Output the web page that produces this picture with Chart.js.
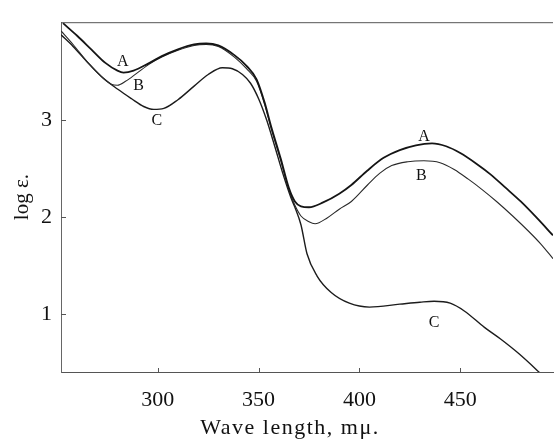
<!DOCTYPE html>
<html>
<head>
<meta charset="utf-8">
<script src="https://cdn.jsdelivr.net/npm/chart.js@4.4.1/dist/chart.umd.min.js"></script>
<style>
  html, body { margin: 0; padding: 0; background: #fff; }
  #wrap { width: 554px; height: 440px; }
</style>
</head>
<body>
<div id="wrap"><canvas id="spectrum" width="554" height="440"></canvas></div>
<script>
// curve A
const waveA = [253, 260, 267, 274, 280, 283, 288, 295, 302, 310, 318, 324, 330, 338, 344, 349, 353, 356, 361, 365, 368, 371, 375, 382, 390, 396, 404, 412, 420, 428, 436, 443, 450, 458, 465, 472, 480, 488, 496];
const logA  = [4.00, 3.87, 3.73, 3.59, 3.51, 3.49, 3.51, 3.58, 3.66, 3.73, 3.78, 3.79, 3.77, 3.67, 3.56, 3.42, 3.18, 2.95, 2.60, 2.30, 2.16, 2.11, 2.10, 2.15, 2.24, 2.33, 2.48, 2.61, 2.69, 2.74, 2.76, 2.73, 2.66, 2.55, 2.44, 2.31, 2.16, 1.99, 1.81];
// curve B
const waveB = [252, 258, 265, 272, 277, 280, 284, 290, 296, 302, 310, 318, 324, 330, 338, 344, 349, 353, 356, 361, 365, 368, 371, 375, 378, 384, 390, 396, 404, 410, 416, 424, 432, 440, 447, 454, 461, 468, 476, 484, 490, 496];
const logB  = [3.92, 3.78, 3.60, 3.45, 3.37, 3.36, 3.40, 3.49, 3.58, 3.65, 3.72, 3.77, 3.78, 3.76, 3.65, 3.53, 3.40, 3.16, 2.93, 2.58, 2.28, 2.12, 2.01, 1.95, 1.93, 1.99, 2.08, 2.16, 2.33, 2.45, 2.53, 2.57, 2.58, 2.56, 2.49, 2.39, 2.28, 2.16, 2.01, 1.85, 1.72, 1.57];
// curve C
const waveC = [252, 258, 265, 272, 280, 287, 293, 298, 303, 310, 318, 325, 332, 337, 342, 346, 350, 354, 358, 362, 366, 368, 371, 374, 379, 386, 395, 405, 420, 430, 437, 445, 452, 462, 470, 479, 489, 492];
const logC  = [3.88, 3.76, 3.60, 3.45, 3.32, 3.22, 3.14, 3.11, 3.12, 3.21, 3.35, 3.47, 3.54, 3.53, 3.47, 3.38, 3.22, 3.00, 2.73, 2.45, 2.20, 2.10, 1.92, 1.62, 1.39, 1.22, 1.11, 1.07, 1.10, 1.12, 1.13, 1.11, 1.03, 0.86, 0.74, 0.59, 0.40, 0.34];

const xTicks = [300, 350, 400, 450];
const yTicks = [1, 2, 3];

// letters written next to the curves, at data coordinates
const curveNames = ['A', 'B', 'C', 'A', 'B', 'C'];
const nameWave   = [282.6, 290.5, 299.5, 432, 430.7, 437];
const nameLog    = [3.60, 3.35, 2.99, 2.83, 2.42, 0.91];

const serif = '"Liberation Serif", "DejaVu Serif", serif';

function points(xs, ys) {
  return xs.map((x, i) => ({ x: x, y: ys[i] }));
}

const frame = {
  id: 'frame',
  afterDraw(chart) {
    const ctx = chart.ctx;
    const area = chart.chartArea;
    const xs = chart.scales.x;
    const ys = chart.scales.y;
    ctx.save();
    ctx.strokeStyle = '#555';
    ctx.lineWidth = 1;
    ctx.beginPath();
    ctx.moveTo(area.left, area.top + 0.5);
    ctx.lineTo(area.right, area.top + 0.5);
    // inward tick marks
    xTicks.forEach(v => {
      const px = Math.round(xs.getPixelForValue(v)) + 0.5;
      ctx.moveTo(px, area.bottom);
      ctx.lineTo(px, area.bottom - 4);
    });
    yTicks.forEach(v => {
      const py = Math.round(ys.getPixelForValue(v)) + 0.5;
      ctx.moveTo(area.left, py);
      ctx.lineTo(area.left + 5, py);
    });
    ctx.stroke();

    ctx.fillStyle = '#111';
    ctx.font = '16px ' + serif;
    ctx.textAlign = 'center';
    ctx.textBaseline = 'middle';
    curveNames.forEach((t, i) => {
      ctx.fillText(t, xs.getPixelForValue(nameWave[i]), ys.getPixelForValue(nameLog[i]));
    });

    ctx.font = '22px ' + serif;
    ctx.letterSpacing = '1.5px';
    ctx.fillText('Wave length, m\u03bc.', 290, 428);
    ctx.restore();
  }
};

const chart = new Chart(document.getElementById('spectrum'), {
  type: 'line',
  data: {
    datasets: [
      { label: 'A', data: points(waveA, logA), borderColor: '#151515', borderWidth: 1.8 },
      { label: 'B', data: points(waveB, logB), borderColor: '#2a2a2a', borderWidth: 1.1 },
      { label: 'C', data: points(waveC, logC), borderColor: '#1c1c1c', borderWidth: 1.4 }
    ]
  },
  options: {
    responsive: false,
    animation: false,
    devicePixelRatio: 1,
    layout: { padding: { top: 11, right: 1, left: 0, bottom: 0 } },
    elements: {
      point: { radius: 0 },
      line: { cubicInterpolationMode: 'monotone', fill: false }
    },
    plugins: {
      legend: { display: false },
      tooltip: { enabled: false }
    },
    scales: {
      x: {
        type: 'linear',
        min: 252,
        max: 496,
        afterBuildTicks: s => { s.ticks = xTicks.map(v => ({ value: v })); },
        afterFit: s => { s.height = 68; },
        grid: { display: false, drawTicks: false },
        border: { display: true, color: '#555', width: 1 },
        ticks: { padding: 15, color: '#111', font: { family: serif, size: 22 } }
      },
      y: {
        min: 0.4,
        max: 4.01,
        afterBuildTicks: s => { s.ticks = yTicks.map(v => ({ value: v })); },
        afterFit: s => { s.width = 61; },
        grid: { display: false, drawTicks: false },
        border: { display: true, color: '#666', width: 1 },
        ticks: { padding: 9, color: '#111', font: { family: serif, size: 22 } },
        title: {
          display: true,
          text: 'log \u03b5.',
          color: '#111',
          padding: { top: 10 },
          font: { family: serif, size: 21 }
        }
      }
    }
  },
  plugins: [frame]
});
</script>
</body>
</html>
